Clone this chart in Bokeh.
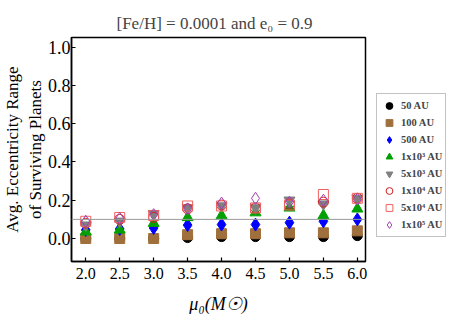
from bokeh.plotting import figure
from bokeh.models import Span, Legend, LegendItem, FixedTicker, PrintfTickFormatter, Range1d
from bokeh.embed import file_html
from bokeh.resources import INLINE

mu0 = [2.0, 2.5, 3.0, 3.5, 4.0, 4.5, 5.0, 5.5, 6.0]
au50 = [0.0, 0.0, 0.0, 0.005, 0.01, 0.01, 0.01, 0.01, 0.015]
au100 = [0.0, 0.0, 0.0, 0.02, 0.025, 0.025, 0.03, 0.03, 0.04]
au500 = [0.045, 0.05, 0.055, 0.07, 0.073, 0.073, 0.083, 0.09, 0.1]
au1e3 = [0.035, 0.045, 0.08, 0.11, 0.12, 0.135, 0.16, 0.12, 0.155]
au5e3 = [0.07, 0.09, 0.13, 0.16, 0.17, 0.16, 0.2, 0.18, 0.21]
au1e4 = [0.08, 0.1, 0.11, 0.155, 0.175, 0.16, 0.18, 0.19, 0.21]
au5e4 = [0.09, 0.11, 0.12, 0.17, 0.17, 0.16, 0.175, 0.23, 0.21]
au1e5 = [0.09, 0.105, 0.125, 0.155, 0.185, 0.21, 0.19, 0.2, 0.205]
labels = ["50 AU", "100 AU", "500 AU", "1x10\u00b3 AU", "5x10\u00b3 AU",
          "1x10\u2074 AU", "5x10\u2074 AU", "1x10\u2075 AU"]
ref_level = 0.1

serif = "Liberation Serif"

p = figure(frame_width=294, frame_height=224, output_backend="svg", toolbar_location=None,
           x_range=Range1d(1.79, 6.12), y_range=Range1d(-0.12, 1.05),
           min_border_left=60, min_border_top=37, min_border_bottom=10,
           min_border_right=89)

p.title.text = "[Fe/H] = 0.0001 and e\u2080 = 0.9"
p.title.text_font = serif
p.title.text_font_size = "17px"
p.title.text_font_style = "normal"
p.title.align = "left"
p.title.offset = 45

p.xgrid.visible = False
p.ygrid.visible = False
p.outline_line_color = "black"
p.outline_line_width = 1.5

for ax in (p.xaxis, p.yaxis):
    ax.major_tick_in = 4
    ax.major_tick_out = 0
    ax.minor_tick_line_color = None
    ax.axis_line_width = 1.5
    ax.major_tick_line_width = 1.2
    ax.major_label_text_font = serif
    ax.axis_label_text_font = serif
    ax.axis_label_text_font_style = "normal"
    ax.major_label_text_color = "black"
    ax.axis_label_text_color = "black"

p.xaxis.ticker = FixedTicker(ticks=mu0)
p.xaxis.formatter = PrintfTickFormatter(format="%.1f")
p.xaxis.major_label_text_font_size = "16px"
p.xaxis.major_label_standoff = 6
p.xaxis.axis_label = "\u03bc\u2080(M\u2609)"
p.xaxis.axis_label_text_font_size = "18px"
p.xaxis.axis_label_text_font_style = "italic"
p.xaxis.axis_label_standoff = 12

p.yaxis.ticker = FixedTicker(ticks=[0.0, 0.2, 0.4, 0.6, 0.8, 1.0])
p.yaxis.formatter = PrintfTickFormatter(format="%.1f")
p.yaxis.major_label_text_font_size = "18px"
p.yaxis.major_label_standoff = 1
p.yaxis.axis_label = "Avg. Eccentricity Range\nof Surviving Planets"
p.yaxis.axis_label_text_font_size = "17px"
p.yaxis.axis_label_standoff = 0

p.add_layout(Span(location=ref_level, dimension="width", line_color="#999999", line_width=1))

renderers = []
renderers.append(p.scatter(mu0, au50, marker="circle", size=10, fill_color="black", line_color="black"))
renderers.append(p.scatter(mu0, au100, marker="square", size=10, fill_color="#A0703C", line_color="#A0703C"))
renderers.append(p.scatter(mu0, au500, marker="diamond", size=13, fill_color="#0000FF", line_color="#0000FF"))
renderers.append(p.scatter(mu0, au1e3, marker="triangle", size=11, fill_color="#00A000", line_color="#00A000"))
renderers.append(p.scatter(mu0, au5e3, marker="inverted_triangle", size=11, fill_color="#808080", line_color="#808080"))
renderers.append(p.scatter(mu0, au1e4, marker="circle", size=10, fill_color=None, line_color="#CC2222", line_width=1))
renderers.append(p.scatter(mu0, au5e4, marker="square", size=10, fill_color=None, line_color="#F06060", line_width=1))
renderers.append(p.scatter(mu0, au1e5, marker="diamond", size=12, fill_color=None, line_color="#A040B0", line_width=1))

items = [LegendItem(label=l, renderers=[r]) for l, r in zip(labels, renderers)]
legend = Legend(items=items, location=(11, 24), label_text_font=serif,
                label_text_font_size="10.5px", label_text_font_style="bold",
                spacing=0, padding=3, margin=0, glyph_width=18, glyph_height=17,
                label_height=17, label_standoff=3,
                border_line_color="#888888", border_line_width=1)
p.add_layout(legend, "right")

open("out.html", "w").write(file_html(p, INLINE))
